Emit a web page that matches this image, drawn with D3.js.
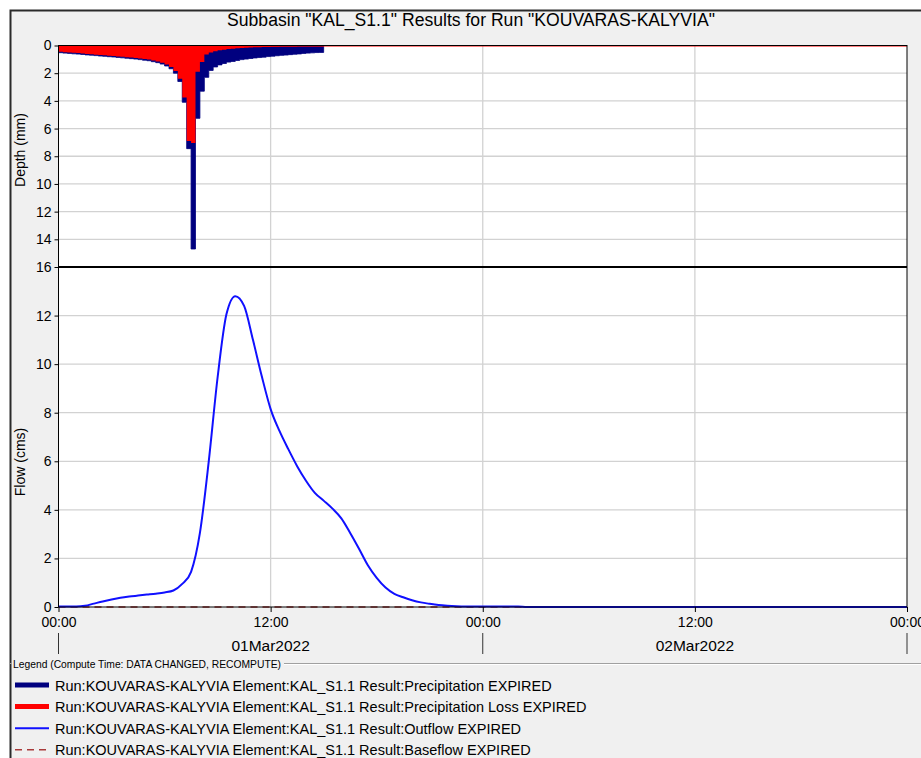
<!DOCTYPE html>
<html>
<head>
<meta charset="utf-8">
<script src="https://cdn.jsdelivr.net/npm/d3@7"></script>
<style>
  body { margin: 0; background: #ffffff; }
  svg { display: block; font-family: "Liberation Sans", Arial, sans-serif; }
</style>
</head>
<body>
<svg id="chart" width="921" height="758"></svg>
<script>
// ---- Run results: subbasin KAL_S1.1, run KOUVARAS-KALYVIA ----
const runStart = Date.UTC(2022, 2, 1, 0, 0);   // 01Mar2022 00:00
const runHours = 48;
const intervalHours = 0.25;                     // 15-minute hyetograph interval

// Incremental precipitation per 15-min interval (mm), 00:00 - 15:00
const precipitation = [
  0.52, 0.55, 0.57, 0.60, 0.62, 0.65, 0.68, 0.70, 0.73, 0.76,
  0.78, 0.81, 0.83, 0.86, 0.89, 0.92, 0.95, 0.98, 1.02, 1.06,
  1.10, 1.17, 1.24, 1.34, 1.48, 1.68, 2.00, 2.60, 4.10, 7.45,
  14.70, 5.26, 3.30, 2.30, 1.80, 1.55, 1.40, 1.30, 1.20, 1.15,
  1.08, 1.02, 0.98, 0.94, 0.90, 0.87, 0.84, 0.80, 0.77, 0.74,
  0.71, 0.69, 0.66, 0.63, 0.61, 0.57, 0.55, 0.53, 0.51, 0.50
];

// Incremental precipitation loss per 15-min interval (mm)
const precipitationLoss = [
  0.45, 0.48, 0.50, 0.53, 0.55, 0.58, 0.61, 0.63, 0.66, 0.69,
  0.71, 0.74, 0.76, 0.79, 0.82, 0.85, 0.87, 0.90, 0.94, 0.98,
  1.02, 1.09, 1.15, 1.24, 1.37, 1.56, 1.85, 2.40, 3.75, 6.90,
  7.05, 1.90, 1.20, 0.65, 0.50, 0.42, 0.34, 0.30, 0.26, 0.23,
  0.20, 0.18, 0.16, 0.15, 0.13, 0.12, 0.11, 0.10, 0.09, 0.085,
  0.08, 0.075, 0.07, 0.065, 0.06, 0.06, 0.055, 0.05, 0.05, 0.05
];

// Outflow hydrograph (cms) at hours from run start
const outflowHours = [
  0, 0.5, 1, 1.5, 2, 2.5, 3, 3.5, 4, 4.5, 5, 5.5, 6, 6.5, 7, 7.5,
  8, 8.5, 9, 9.5, 10, 10.5, 11, 11.5, 12, 12.5, 13, 13.5, 14, 14.5,
  15, 15.5, 16, 16.5, 17, 17.5, 18, 18.5, 19, 19.5, 20, 20.5, 21,
  21.5, 22, 22.5, 23, 24, 25, 26, 26.5, 36, 48
];
const outflow = [
  0.02, 0.02, 0.02, 0.05, 0.14, 0.23, 0.31, 0.38, 0.43, 0.47, 0.51, 0.55, 0.60, 0.68, 0.95, 1.45,
  3.05, 6.00, 9.45, 12.05, 12.80, 12.40, 11.00, 9.50, 8.15, 7.25, 6.50, 5.80, 5.20, 4.70,
  4.38, 4.05, 3.65, 3.05, 2.40, 1.72, 1.20, 0.80, 0.54, 0.40, 0.28, 0.19, 0.13,
  0.08, 0.05, 0.03, 0.02, 0.02, 0.02, 0.02, 0.00, 0.00, 0.00
];

// Baseflow (cms)
const baseflowHours = [0, 48];
const baseflow = [0, 0];

// Axis ticks and labels
const depthTicks = [0, 2, 4, 6, 8, 10, 12, 14, 16];
const flowTicks = [0, 2, 4, 6, 8, 10, 12];
const timeTickHours = [0, 12, 24, 36, 48];
const dayStartHours = [0, 24, 48];
const dayLabels = ["01Mar2022", "02Mar2022"];

const chartTitle = 'Subbasin "KAL_S1.1" Results for Run "KOUVARAS-KALYVIA"';
const legendHeading = "Legend (Compute Time: DATA CHANGED, RECOMPUTE)";
const legendLabels = [
  "Run:KOUVARAS-KALYVIA Element:KAL_S1.1 Result:Precipitation EXPIRED",
  "Run:KOUVARAS-KALYVIA Element:KAL_S1.1 Result:Precipitation Loss EXPIRED",
  "Run:KOUVARAS-KALYVIA Element:KAL_S1.1 Result:Outflow EXPIRED",
  "Run:KOUVARAS-KALYVIA Element:KAL_S1.1 Result:Baseflow EXPIRED"
];

// ---- Styles ----
const colors = {
  precip: "#00007f",
  loss: "#ff0000",
  outflow: "#1010ff",
  baseflow: "#a83a3a",
  grid: "#d2d2d2",
  panel: "#f0f0f0"
};

const toDate = h => new Date(runStart + h * 3600 * 1000);

// ---- Layout ----
const W = 921, H = 758;
const plot = { left: 58.5, right: 907, top: 45.5, split: 267, bottom: 607 };

const svg = d3.select("#chart");

// Window frame and panel background
svg.append("rect").attr("x", 10).attr("y", 10).attr("width", W - 10).attr("height", H - 10)
  .attr("fill", colors.panel);
svg.append("path").attr("d", `M10.5,${H} V10.5 H${W}`)
  .attr("fill", "none").attr("stroke", "#2a2a2a").attr("stroke-width", 2);

// Title
svg.append("text").attr("x", 471).attr("y", 26).attr("text-anchor", "middle")
  .attr("font-size", 17.6).attr("fill", "#000").text(chartTitle);

// Scales
const x = d3.scaleUtc().domain([toDate(0), toDate(runHours)]).range([plot.left, plot.right]);
const yDepth = d3.scaleLinear().domain([0, 16]).range([plot.top, plot.split]);
const yFlow = d3.scaleLinear().domain([0, 14]).range([plot.bottom, plot.split]);

// Plot backgrounds
svg.append("rect").attr("x", plot.left).attr("y", plot.top)
  .attr("width", plot.right - plot.left).attr("height", plot.bottom - plot.top).attr("fill", "#fff");

// Gridlines
const grid = svg.append("g").attr("stroke", colors.grid).attr("stroke-width", 1.3);
grid.selectAll(".hd").data(depthTicks.filter(d => d > 0 && d < 16)).join("line")
  .attr("x1", plot.left).attr("x2", plot.right)
  .attr("y1", d => yDepth(d)).attr("y2", d => yDepth(d));
grid.selectAll(".hf").data(flowTicks.filter(d => d > 0)).join("line")
  .attr("x1", plot.left).attr("x2", plot.right)
  .attr("y1", d => yFlow(d)).attr("y2", d => yFlow(d));
grid.selectAll(".v").data(timeTickHours.filter(h => h > 0 && h < runHours)).join("line")
  .attr("x1", h => x(toDate(h))).attr("x2", h => x(toDate(h)))
  .attr("y1", plot.top).attr("y2", plot.bottom);

// Hyetograph: precipitation and loss hanging from the top axis
const stepData = vals => {
  const pts = vals.map((v, i) => ({ h: i * intervalHours, v }));
  pts.push({ h: vals.length * intervalHours, v: vals[vals.length - 1] });
  return pts;
};
const stepArea = d3.area()
  .curve(d3.curveStepAfter)
  .x(d => x(toDate(d.h)))
  .y0(yDepth(0))
  .y1(d => yDepth(d.v));

const clipTop = svg.append("clipPath").attr("id", "clipTop");
clipTop.append("rect").attr("x", plot.left).attr("y", plot.top)
  .attr("width", plot.right - plot.left).attr("height", plot.split - plot.top);

const hyeto = svg.append("g").attr("clip-path", "url(#clipTop)");
hyeto.append("path").datum(stepData(precipitation))
  .attr("d", stepArea).attr("fill", colors.precip)
  .attr("stroke", colors.precip).attr("stroke-width", 0.8);
hyeto.append("path").datum(stepData(precipitationLoss))
  .attr("d", stepArea).attr("fill", colors.loss);
// loss series continues at zero to the end of the run
hyeto.append("line")
  .attr("x1", x(toDate(0))).attr("x2", x(toDate(runHours)))
  .attr("y1", yDepth(0) + 0.5).attr("y2", yDepth(0) + 0.5)
  .attr("stroke", colors.loss).attr("stroke-width", 1.2);

// Flow panel
const clipBottom = svg.append("clipPath").attr("id", "clipBottom");
clipBottom.append("rect").attr("x", plot.left).attr("y", plot.split)
  .attr("width", plot.right - plot.left).attr("height", plot.bottom - plot.split + 2);
const flowG = svg.append("g").attr("clip-path", "url(#clipBottom)");

const baseLine = d3.line().x((h, i) => x(toDate(h))).y((h, i) => yFlow(baseflow[i]));
flowG.append("path").datum(baseflowHours).attr("d", baseLine)
  .attr("fill", "none").attr("stroke", colors.baseflow)
  .attr("stroke-width", 1.6).attr("stroke-dasharray", "7,5");

const flowLine = d3.line().curve(d3.curveMonotoneX)
  .x((h, i) => x(toDate(h))).y((h, i) => yFlow(outflow[i]));
flowG.append("path").datum(outflowHours).attr("d", flowLine)
  .attr("fill", "none").attr("stroke", colors.outflow).attr("stroke-width", 2)
  .attr("stroke-linejoin", "round");

// Plot borders
svg.append("rect").attr("x", plot.left).attr("y", plot.top)
  .attr("width", plot.right - plot.left).attr("height", plot.bottom - plot.top)
  .attr("fill", "none").attr("stroke", "#000").attr("stroke-width", 1);
svg.append("line").attr("x1", plot.left).attr("x2", plot.right)
  .attr("y1", plot.split).attr("y2", plot.split)
  .attr("stroke", "#000").attr("stroke-width", 2);

// Axes
const styleAxis = g => {
  g.select(".domain").remove();
  g.selectAll(".tick line").attr("stroke", "#000");
  g.selectAll(".tick text").attr("font-size", 14).attr("fill", "#000")
    .attr("font-family", '"Liberation Sans", Arial, sans-serif');
};
svg.append("g").attr("transform", `translate(${plot.left},0)`)
  .call(d3.axisLeft(yDepth).tickValues(depthTicks).tickSize(4).tickPadding(3))
  .call(styleAxis);
svg.append("g").attr("transform", `translate(${plot.left},0)`)
  .call(d3.axisLeft(yFlow).tickValues(flowTicks).tickSize(4).tickPadding(3))
  .call(styleAxis);
svg.append("g").attr("transform", `translate(0,${plot.bottom})`)
  .call(d3.axisBottom(x).tickValues(timeTickHours.map(toDate))
    .tickFormat(d3.utcFormat("%H:%M")).tickSize(5).tickPadding(5))
  .call(styleAxis);

// Day band under the time axis
svg.append("g").selectAll("line").data(dayStartHours).join("line")
  .attr("x1", h => x(toDate(h))).attr("x2", h => x(toDate(h)))
  .attr("y1", 633).attr("y2", 654).attr("stroke", "#333").attr("stroke-width", 1);
svg.append("g").selectAll("text").data(dayLabels).join("text")
  .attr("x", (d, i) => (x(toDate(dayStartHours[i])) + x(toDate(dayStartHours[i + 1]))) / 2)
  .attr("y", 651).attr("text-anchor", "middle").attr("font-size", 15.5).attr("fill", "#000")
  .text(d => d);

// Axis titles
svg.append("text").attr("transform", `translate(25,150) rotate(-90)`)
  .attr("text-anchor", "middle").attr("font-size", 14).attr("fill", "#000").text("Depth (mm)");
svg.append("text").attr("transform", `translate(25,462) rotate(-90)`)
  .attr("text-anchor", "middle").attr("font-size", 14).attr("fill", "#000").text("Flow (cms)");

// Legend
const headG = svg.append("g");
const head = headG.append("text").attr("x", 13).attr("y", 668)
  .attr("font-size", 10.3).attr("fill", "#000").text(legendHeading);
const headEnd = 13 + head.node().getComputedTextLength() + 3;
headG.append("line").attr("x1", headEnd).attr("x2", W).attr("y1", 663.5).attr("y2", 663.5)
  .attr("stroke", "#a0a0a0");
headG.append("line").attr("x1", headEnd).attr("x2", W).attr("y1", 664.5).attr("y2", 664.5)
  .attr("stroke", "#ffffff");
headG.append("line").attr("x1", 10).attr("x2", 12).attr("y1", 663.5).attr("y2", 663.5)
  .attr("stroke", "#a0a0a0");

const legendStyles = [
  { color: colors.precip, width: 5, dash: null },
  { color: colors.loss, width: 5, dash: null },
  { color: colors.outflow, width: 2, dash: null },
  { color: colors.baseflow, width: 1.6, dash: "7,5" }
];
const legendRows = svg.append("g").selectAll("g").data(legendLabels).join("g")
  .attr("transform", (d, i) => `translate(0,${685 + i * 21.6})`);
legendRows.append("line").attr("x1", 15).attr("x2", 49).attr("y1", 0).attr("y2", 0)
  .attr("stroke", (d, i) => legendStyles[i].color)
  .attr("stroke-width", (d, i) => legendStyles[i].width)
  .attr("stroke-dasharray", (d, i) => legendStyles[i].dash);
legendRows.append("text").attr("x", 55).attr("y", 5.5).attr("font-size", 14.5).attr("fill", "#000")
  .text(d => d);
</script>
</body>
</html>
